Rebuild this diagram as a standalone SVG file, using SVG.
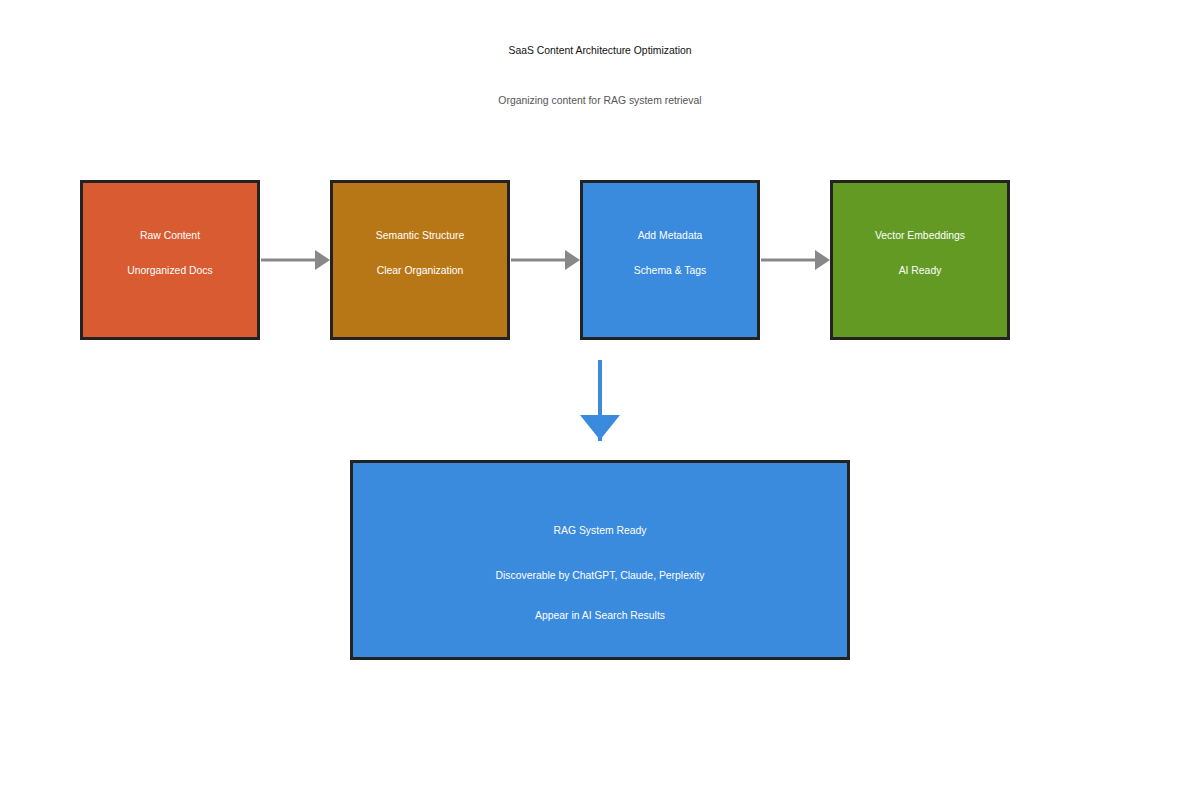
<svg xmlns="http://www.w3.org/2000/svg" width="1200" height="800" viewBox="0 0 1200 800">
<style>
text{font-family:"Liberation Sans",Arial,sans-serif;font-size:10.4px;text-anchor:middle;dominant-baseline:central}
.t{fill:#111}
.s{fill:#555}
.w{fill:#fff}
.box{stroke:#222;stroke-width:3}
.conn{stroke:#888;stroke-width:3;fill:none}
</style>
<rect width="1200" height="800" fill="#fff"/>
<text class="t" x="600" y="50">SaaS Content Architecture Optimization</text>
<text class="s" x="600" y="100">Organizing content for RAG system retrieval</text>
<g id="connectors">
<line class="conn" x1="261" y1="260" x2="316" y2="260"/>
<polygon points="315,250 330,260 315,270" fill="#888"/>
<line class="conn" x1="511" y1="260" x2="566" y2="260"/>
<polygon points="565,250 580,260 565,270" fill="#888"/>
<line class="conn" x1="761" y1="260" x2="816" y2="260"/>
<polygon points="815,250 830,260 815,270" fill="#888"/>
<line x1="600" y1="360" x2="600" y2="441" stroke="#3a8ade" stroke-width="4"/>
<polygon points="580,415 620,415 600,440" fill="#3a8ade"/>
</g>
<g id="raw-content">
<rect class="box" x="81.5" y="181.5" width="177" height="157" fill="#d95b32"/>
<text class="w" x="170" y="235">Raw Content</text>
<text class="w" x="170" y="270">Unorganized Docs</text>
</g>
<g id="semantic-structure">
<rect class="box" x="331.5" y="181.5" width="177" height="157" fill="#b87716"/>
<text class="w" x="420" y="235">Semantic Structure</text>
<text class="w" x="420" y="270">Clear Organization</text>
</g>
<g id="add-metadata">
<rect class="box" x="581.5" y="181.5" width="177" height="157" fill="#3a8ade"/>
<text class="w" x="670" y="235">Add Metadata</text>
<text class="w" x="670" y="270">Schema &amp; Tags</text>
</g>
<g id="vector-embeddings">
<rect class="box" x="831.5" y="181.5" width="177" height="157" fill="#639a24"/>
<text class="w" x="920" y="235">Vector Embeddings</text>
<text class="w" x="920" y="270">AI Ready</text>
</g>
<g id="rag-ready">
<rect class="box" x="351.5" y="461.5" width="497" height="197" fill="#3a8ade"/>
<text class="w" x="600" y="530">RAG System Ready</text>
<text class="w" x="600" y="575">Discoverable by ChatGPT, Claude, Perplexity</text>
<text class="w" x="600" y="615">Appear in AI Search Results</text>
</g>
</svg>
